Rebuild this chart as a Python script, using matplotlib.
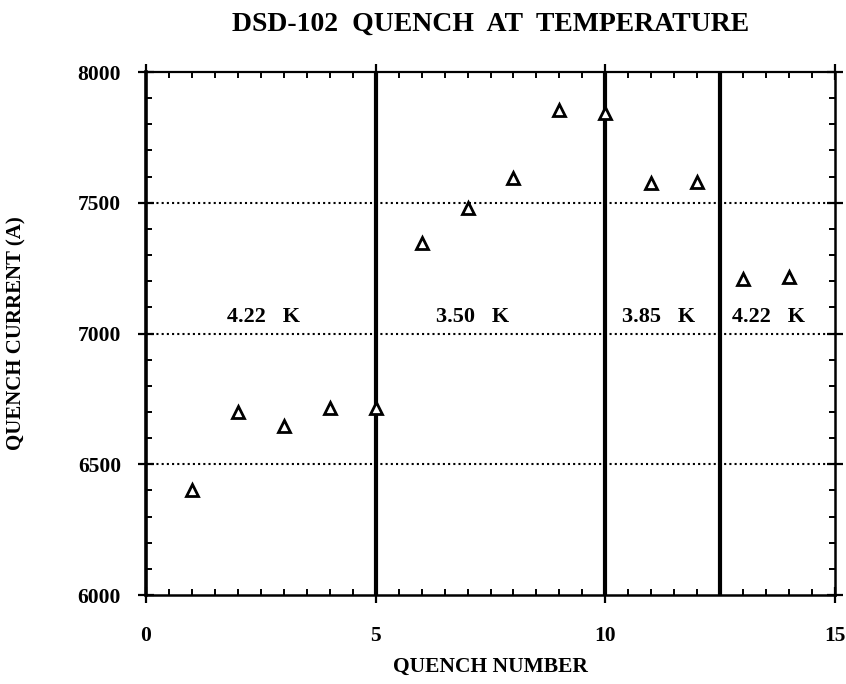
import matplotlib
matplotlib.use('Agg')
import matplotlib.pyplot as plt
from matplotlib.ticker import MultipleLocator

# Quench history
quench_number = [1, 2, 3, 4, 5, 6, 7, 8, 9, 10, 11, 12, 13, 14]
quench_current = [6400, 6700, 6645, 6715, 6715, 7345, 7480, 7595,
                  7855, 7845, 7575, 7580, 7210, 7215]

# temperature regions: boundaries and labels (label x, text)
boundaries = [5, 10, 12.5]
temp_labels = ['4.22   K', '3.50   K', '3.85   K', '4.22   K']
temp_label_x = [2.55, 7.1, 11.15, 13.55]
temp_label_y = 7025
grid_levels = [6500, 7000, 7500]

plt.rcParams['font.family'] = ['Liberation Serif', 'DejaVu Serif']
plt.rcParams['font.weight'] = 'bold'

fig = plt.figure(figsize=(8.46, 6.84), dpi=100)
ax = fig.add_axes([0.1726, 0.130, 0.8144, 0.7647])

for yv in grid_levels:
    ax.axhline(yv, color='black', linestyle=(0, (1, 1.5)), linewidth=1.5, zorder=1)
for xv in boundaries:
    ax.axvline(xv, color='black', linewidth=3, zorder=2)

ax.plot(quench_number, quench_current, linestyle='none', marker='^',
        markersize=8, markerfacecolor='white', markeredgecolor='black',
        markeredgewidth=2, zorder=3)

for x, t in zip(temp_label_x, temp_labels):
    ax.text(x, temp_label_y, t, ha='center', va='bottom', fontsize=16,
            fontweight='bold')

ax.set_xlim(0, 15)
ax.set_ylim(6000, 8000)
ax.xaxis.set_major_locator(MultipleLocator(5))
ax.xaxis.set_minor_locator(MultipleLocator(0.5))
ax.yaxis.set_major_locator(MultipleLocator(500))
ax.yaxis.set_minor_locator(MultipleLocator(100))

ax.tick_params(which='major', direction='inout', length=12, width=1.6,
               top=True, right=True, labelsize=15.5, pad=12)
ax.tick_params(which='minor', direction='in', length=4, width=1.4,
               top=True, right=True)
ax.tick_params(axis='x', which='major', pad=16)

ax.spines['left'].set_linewidth(2.6)
ax.spines['bottom'].set_linewidth(1.8)
ax.spines['top'].set_linewidth(1.6)
ax.spines['right'].set_linewidth(1.8)

ax.set_xlabel('QUENCH NUMBER', fontsize=15.5, fontweight='bold', labelpad=8)
ax.set_ylabel('QUENCH CURRENT (A)', fontsize=15, fontweight='bold', labelpad=37)
ax.set_title('DSD-102  QUENCH  AT  TEMPERATURE', fontsize=20,
             fontweight='bold', pad=30)

fig.savefig('out.png', dpi=100)
